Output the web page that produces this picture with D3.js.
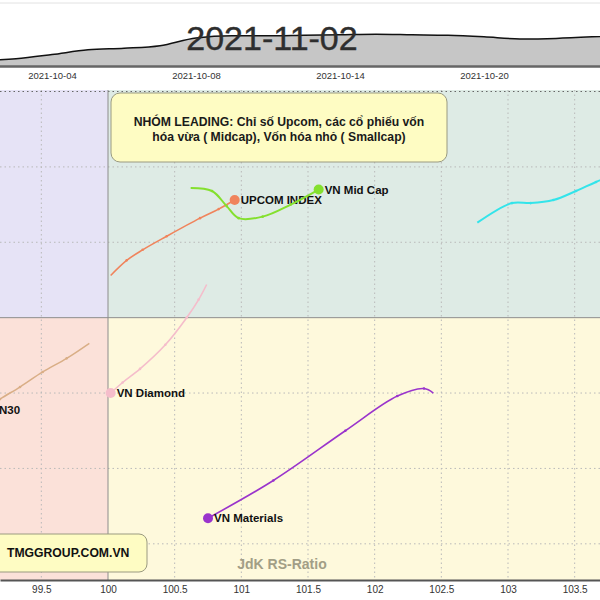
<!DOCTYPE html>
<html><head><meta charset="utf-8">
<script src="https://cdn.jsdelivr.net/npm/d3@7"></script>
<style>
html,body{margin:0;padding:0;background:#fff;}
svg{display:block;font-family:Arial,"Liberation Sans",sans-serif;}
</style></head>
<body>
<svg id="chart" width="600" height="600"></svg>
<script>
// ---------- DATA ----------
const tradingDays = ["2021-09-30","2021-10-01","2021-10-04","2021-10-05","2021-10-06","2021-10-07","2021-10-08",
  "2021-10-11","2021-10-12","2021-10-13","2021-10-14","2021-10-15","2021-10-18","2021-10-19","2021-10-20",
  "2021-10-21","2021-10-22","2021-10-25","2021-10-26"];
const indexValues = [1342,1346,1354,1363,1366,1371,1386,1390,1390,1391,1392,1393,1392,1391,1388,1384,1385,1388,1392];
const dateTicks = ["2021-10-04","2021-10-08","2021-10-14","2021-10-20"];
const currentDate = "2021-11-02";

const xTicks = [99.5,100,100.5,101,101.5,102,102.5,103,103.5];
const yGrid = [98.5,99,99.5,100,100.5,101,101.5];

// tails -> heads: [RS-Ratio, RS-Momentum]
const upcomTrail = [[100.02,100.28],[100.14,100.38],[100.26,100.45],[100.44,100.54],[100.69,100.66],[100.83,100.72],[100.95,100.78]];
const midCapTrail = [[100.62,100.86],[100.78,100.84],[100.89,100.74],[100.98,100.66],[101.16,100.67],[101.37,100.75],[101.58,100.85]];
const smallCapTrail = [[102.77,100.63],[103.03,100.76],[103.17,100.76],[103.34,100.78],[103.51,100.84],[103.66,100.90],[103.88,100.98]];
const diamondTrail = [[100.74,100.22],[100.68,100.12],[100.59,100.00],[100.43,99.82],[100.24,99.66],[100.11,99.57],[100.02,99.50]];
const vn30Trail = [[99.86,99.83],[99.69,99.73],[99.51,99.64],[99.34,99.54],[99.19,99.46],[99.08,99.39]];
const materialsTrail = [[102.44,99.50],[102.37,99.53],[102.17,99.48],[101.78,99.25],[101.24,98.92],[100.75,98.67]];

const seriesNames = ["UPCOM INDEX","VN Mid Cap","VN Small Cap","VN Diamond","VN30","VN Materials"];
const seriesTrails = [upcomTrail, midCapTrail, smallCapTrail, diamondTrail, vn30Trail, materialsTrail];
const seriesColors = ["#f0845c","#84e02e","#33e4ea","#f5bdcb","#d9ae86","#9a34cc"];
const seriesWidths = [1.6,2,2,1.6,1.5,1.6];

const noteLines = ["NHÓM LEADING: Chỉ số Upcom, các cổ phiếu vốn","hóa vừa ( Midcap), Vốn hóa nhỏ ( Smallcap)"];
const brandText = "TMGGROUP.COM.VN";
const xAxisTitle = "JdK RS-Ratio";

// ---------- CHART ----------
const svg = d3.select("#chart");
const W = 600;

svg.append("line").attr("x1",0).attr("x2",W).attr("y1",3).attr("y2",3).attr("stroke","#e2e2e2");

// timeline strip
const xTime = d3.scalePoint().domain(tradingDays).range([-20, -20 + 36*(tradingDays.length-1)]);
const yTime = d3.scaleLinear().domain([1332,1420]).range([66,20.2]);
const tl = svg.append("g");
tl.append("path").datum(indexValues)
  .attr("fill","#c6c6c6")
  .attr("d", d3.area().x((d,i)=>xTime(tradingDays[i])).y0(yTime(1332)).y1(d=>yTime(d)).curve(d3.curveMonotoneX));
tl.append("path").datum(indexValues)
  .attr("fill","none").attr("stroke","#111").attr("stroke-width",1.5)
  .attr("d", d3.line().x((d,i)=>xTime(tradingDays[i])).y(d=>yTime(d)).curve(d3.curveMonotoneX));
const tAxis = tl.append("g").attr("transform",`translate(0,${yTime(1332)})`)
  .call(d3.axisBottom(xTime).tickValues(dateTicks).tickSize(0).tickPadding(6));
tAxis.select(".domain").attr("stroke","#666").attr("stroke-width",2.5);
tAxis.selectAll("text").attr("font-size","9.5px").attr("fill","#333").attr("font-family","Arial, 'Liberation Sans', sans-serif");

svg.append("text").attr("x",272).attr("y",50).attr("text-anchor","middle")
  .attr("font-size","34px").attr("fill","#2e2e2e").attr("stroke","#2e2e2e").attr("stroke-width",0.4)
  .text(currentDate);

// main RRG
const x = d3.scaleLinear().domain([99.19,103.69]).range([0,600]);
const y = d3.scaleLinear().domain([98.26,101.51]).range([580,90]);
const [x0,x1] = x.domain(), [y0,y1] = y.domain();

svg.append("defs").append("clipPath").attr("id","plotClip")
  .append("rect").attr("x",x(x0)).attr("y",y(y1)).attr("width",x(x1)-x(x0)).attr("height",y(y0)-y(y1));
const plot = svg.append("g").attr("clip-path","url(#plotClip)");

const quads = [
  {xa:x0, xb:100, ya:100, yb:y1, c:"#e6e3f6"},
  {xa:100, xb:x1, ya:100, yb:y1, c:"#deebe5"},
  {xa:x0, xb:100, ya:y0, yb:100, c:"#fbe1d9"},
  {xa:100, xb:x1, ya:y0, yb:100, c:"#fef9dc"}
];
plot.selectAll("rect.q").data(quads).join("rect").attr("class","q")
  .attr("x",d=>x(d.xa)).attr("width",d=>x(d.xb)-x(d.xa))
  .attr("y",d=>y(d.yb)).attr("height",d=>y(d.ya)-y(d.yb)).attr("fill",d=>d.c);

plot.selectAll("line.vg").data(xTicks.filter(v=>v!==100)).join("line").attr("class","vg")
  .attr("x1",d=>x(d)).attr("x2",d=>x(d)).attr("y1",y(y1)).attr("y2",y(y0))
  .attr("stroke","#b9b9b9").attr("stroke-dasharray","1.5,3");
plot.selectAll("line.hg").data(yGrid.filter(v=>v!==100)).join("line").attr("class","hg")
  .attr("y1",d=>y(d)).attr("y2",d=>y(d)).attr("x1",x(x0)).attr("x2",x(x1))
  .attr("stroke",d=>d===101.5?"#666":"#b9b9b9").attr("stroke-dasharray","1.5,3");
plot.append("line").attr("x1",x(100)).attr("x2",x(100)).attr("y1",y(y1)).attr("y2",y(y0)).attr("stroke","#8c8c8c");
plot.append("line").attr("y1",y(100)).attr("y2",y(100)).attr("x1",x(x0)).attr("x2",x(x1)).attr("stroke","#8c8c8c");

// trails
const line = d3.line().x(d=>x(d[0])).y(d=>y(d[1])).curve(d3.curveCatmullRom.alpha(0.5));
seriesTrails.forEach((trail,i)=>{
  const g = plot.append("g");
  g.append("path").datum(trail).attr("fill","none").attr("stroke",seriesColors[i])
    .attr("stroke-width",seriesWidths[i]).attr("d",line);
  g.selectAll("circle.p").data(trail.slice(1,-1)).join("circle").attr("class","p")
    .attr("cx",d=>x(d[0])).attr("cy",d=>y(d[1])).attr("r",1.3).attr("fill",seriesColors[i]);
  const head = trail[trail.length-1];
  g.append("circle").attr("cx",x(head[0])).attr("cy",y(head[1])).attr("r",5).attr("fill",seriesColors[i]);
  // label only when its anchor lies inside the visible plot (head beyond the right edge is not shown)
  if (head[0] < x1) {
    g.append("text").attr("x",x(head[0])+6).attr("y",y(head[1])+4)
      .attr("font-size","11.5px").attr("font-weight","bold").attr("fill","#111").text(seriesNames[i]);
  }
});

// note box
const note = plot.append("g");
note.append("rect").attr("x",111).attr("y",93).attr("width",336).attr("height",69).attr("rx",9)
  .attr("fill","#fefcc3").attr("stroke","#9a9a80").attr("stroke-width",1);
note.selectAll("text").data(noteLines).join("text")
  .attr("x",279).attr("y",(d,i)=>126+i*14.5).attr("text-anchor","middle")
  .attr("font-size","12.2px").attr("font-weight","bold").attr("fill","#1a1a1a").text(d=>d);

// brand box
const brand = plot.append("g");
brand.append("rect").attr("x",-20).attr("y",534).attr("width",167).attr("height",38).attr("rx",8)
  .attr("fill","#fefcc3").attr("stroke","#9a9a80");
brand.append("text").attr("x",7).attr("y",557).attr("font-size","12.2px").attr("font-weight","bold")
  .attr("fill","#111").text(brandText);

plot.append("text").attr("x",282).attr("y",569).attr("text-anchor","middle")
  .attr("font-size","14px").attr("font-weight","bold").attr("fill","#a29e86").text(xAxisTitle);

// x axis
const xa = svg.append("g").attr("transform",`translate(0,${y(y0)})`)
  .call(d3.axisBottom(x).tickValues(xTicks).tickSize(0).tickPadding(6).tickFormat(d=>String(d)));
xa.select(".domain").attr("stroke","#555").attr("stroke-width",2);
xa.selectAll("text").attr("font-size","10px").attr("fill","#333").attr("font-family","Arial, 'Liberation Sans', sans-serif");
</script>
</body></html>
